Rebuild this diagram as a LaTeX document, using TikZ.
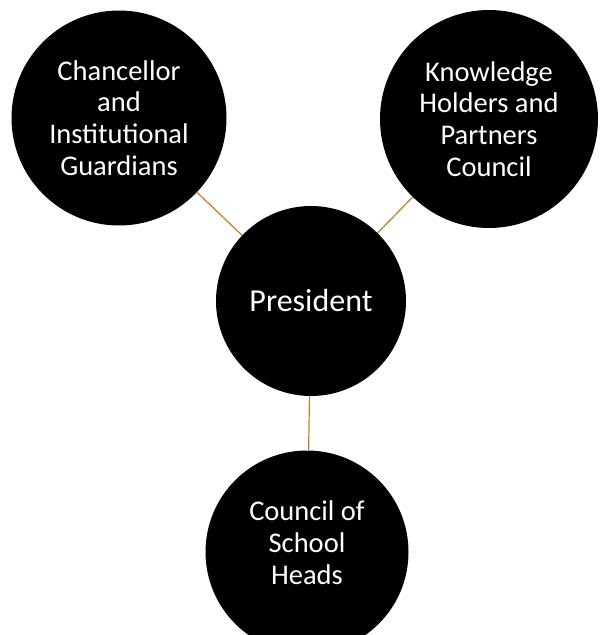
\documentclass[tikz,border=0pt]{standalone}
\usepackage{fontspec}
\setmainfont{Carlito}
\definecolor{linkorange}{RGB}{197,123,48}
\begin{document}
\begin{tikzpicture}[
    x=1pt, y=-1pt,
    member/.style={circle, fill=black, text=white, align=center, inner sep=0pt, font=\fontsize{28.5}{31.7}\selectfont},
    link/.style={draw=linkorange, line width=1.2pt}
]
\useasboundingbox (0,0) rectangle (600,635);
\clip (0,0) rectangle (600,635);

% Outer councils
\node[member, minimum size=215pt] (chancellor) at (119,118) {Chancellor\\and\\Institutional\\Guardians};
\node[member, minimum size=218pt] (knowledge) at (489,119) {Knowledge\\Holders and\\Partners\\Council};

% Centre
\node[member, minimum size=190pt, font=\fontsize{32}{36}\selectfont] (president) at (311,301) {President};

% Bottom council
\node[member, minimum size=203pt] (schools) at (307,552) {\raisebox{3pt}[\dimexpr\height-3pt\relax][\dimexpr\depth+3pt\relax]{\begin{tabular}{@{}c@{}}Council of\\School\\Heads\end{tabular}}};

% Links
\draw[link] (president) -- (chancellor);
\draw[link] (president) -- (knowledge);
\draw[link] (president) -- (schools);

\end{tikzpicture}
\end{document}
